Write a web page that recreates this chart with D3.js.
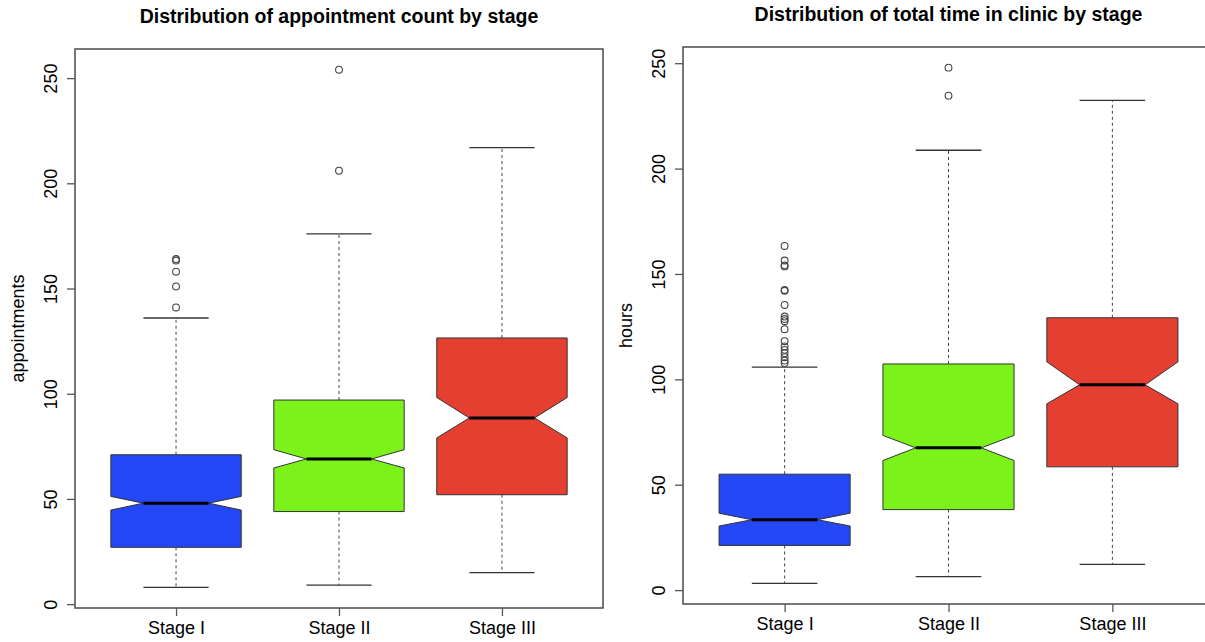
<!DOCTYPE html>
<html>
<head>
<meta charset="utf-8">
<script src="https://cdn.jsdelivr.net/npm/d3@7"></script>
<style>
  html, body { margin: 0; padding: 0; background: #ffffff; }
  svg { display: block; font-family: "Liberation Sans", Arial, Helvetica, sans-serif; }
</style>
</head>
<body>
<svg id="chart" width="1205" height="642"></svg>
<script>
// Stage groups and their fill colours
const stages = ["Stage I", "Stage II", "Stage III"];
const stageFills = ["#2548F6", "#7CF21B", "#E53F31"];
const yTicks = [0, 50, 100, 150, 200, 250];

// Appointment count per stage: five-number summaries, notch limits, outliers
const apptWhiskLo = [8, 9, 15];
const apptQ1 = [27, 44, 52];
const apptMedian = [48, 69, 88.5];
const apptQ3 = [71, 97, 126.5];
const apptWhiskHi = [136, 176, 217];
const apptNotchLo = [44.7, 64.7, 79];
const apptNotchHi = [51.2, 73.4, 98.2];
const apptOutliers = [[141, 151, 158, 163.3, 164], [206, 254], []];

// Total hours in clinic per stage
const hoursWhiskLo = [3.2, 6.4, 12.2];
const hoursQ1 = [21.2, 38.2, 58.5];
const hoursMedian = [33.4, 67.5, 97.4];
const hoursQ3 = [55, 107.3, 129.2];
const hoursWhiskHi = [105.8, 208.7, 232.4];
const hoursNotchLo = [30.4, 61.5, 88.4];
const hoursNotchHi = [36.5, 73.4, 108.3];
const hoursOutliers = [
  [107.7, 108.9, 110.5, 112.4, 114, 115.6, 118.1, 123.8, 127.6, 128.6, 129.8,
   135.3, 142, 142.4, 153.6, 154.1, 156.4, 163.3],
  [234.6, 247.9],
  []
];

const svg = d3.select("#chart");

function drawPanel(opt) {
  const g = svg.append("g");
  const n = stages.length;
  const rows = d3.range(n).map(i => ({
    name: stages[i], pos: i + 1, fill: stageFills[i],
    lo: opt.whiskLo[i], q1: opt.q1[i], med: opt.median[i], q3: opt.q3[i],
    hi: opt.whiskHi[i], nlo: opt.notchLo[i], nhi: opt.notchHi[i],
    out: opt.outliers[i]
  }));

  // y range padded by 4% of the data span on either side
  const allVals = rows.flatMap(r => [r.lo, r.hi, ...r.out]);
  const lo = d3.min(allVals), hi = d3.max(allVals), pad = (hi - lo) * 0.04;
  const y = d3.scaleLinear().domain([lo - pad, hi + pad]).range([opt.bottom, opt.top]);
  const x = d3.scaleLinear().domain([0.38, 3.62]).range([opt.left, opt.right]);
  const halfW = (x(1.4) - x(1)); // box half-width (0.4 units)

  // notched boxes
  const boxPath = r => {
    const c = x(r.pos);
    const pts = [
      [c - halfW, y(r.q1)], [c + halfW, y(r.q1)], [c + halfW, y(r.nlo)],
      [c + halfW * 0.5, y(r.med)], [c + halfW, y(r.nhi)], [c + halfW, y(r.q3)],
      [c - halfW, y(r.q3)], [c - halfW, y(r.nhi)], [c - halfW * 0.5, y(r.med)],
      [c - halfW, y(r.nlo)]
    ];
    return d3.line()(pts) + "Z";
  };

  // whiskers (dashed)
  g.selectAll(".whisk-lo").data(rows).join("line")
    .attr("x1", r => x(r.pos)).attr("x2", r => x(r.pos))
    .attr("y1", r => y(r.q1)).attr("y2", r => y(r.lo))
    .attr("stroke", "#444").attr("stroke-width", 1).attr("stroke-dasharray", "3,3");
  g.selectAll(".whisk-hi").data(rows).join("line")
    .attr("x1", r => x(r.pos)).attr("x2", r => x(r.pos))
    .attr("y1", r => y(r.q3)).attr("y2", r => y(r.hi))
    .attr("stroke", "#444").attr("stroke-width", 1).attr("stroke-dasharray", "3,3");

  // staples
  ["lo", "hi"].forEach(k => {
    g.selectAll(".cap-" + k).data(rows).join("line")
      .attr("x1", r => x(r.pos) - halfW * 0.5).attr("x2", r => x(r.pos) + halfW * 0.5)
      .attr("y1", r => y(r[k])).attr("y2", r => y(r[k]))
      .attr("stroke", "#333").attr("stroke-width", 1.3);
  });

  g.selectAll(".box").data(rows).join("path")
    .attr("d", boxPath)
    .attr("fill", r => r.fill)
    .attr("stroke", "#333").attr("stroke-width", 1);

  // medians
  g.selectAll(".med").data(rows).join("line")
    .attr("x1", r => x(r.pos) - halfW * 0.5).attr("x2", r => x(r.pos) + halfW * 0.5)
    .attr("y1", r => y(r.med)).attr("y2", r => y(r.med))
    .attr("stroke", "#000").attr("stroke-width", 3);

  // outliers
  const outPts = rows.flatMap(r => r.out.map(v => ({ pos: r.pos, v })));
  g.selectAll(".out").data(outPts).join("circle")
    .attr("cx", d => x(d.pos)).attr("cy", d => y(d.v)).attr("r", 3.4)
    .attr("fill", "none").attr("stroke", "#444").attr("stroke-width", 1.1);

  // frame
  g.append("rect")
    .attr("x", opt.left).attr("y", opt.top)
    .attr("width", opt.right - opt.left).attr("height", opt.bottom - opt.top)
    .attr("fill", "none").attr("stroke", "#4a4a4a").attr("stroke-width", 1.5);

  // y axis
  const yAxis = g.append("g").attr("transform", `translate(${opt.left},0)`)
    .call(d3.axisLeft(y).tickValues(yTicks).tickSize(8).tickPadding(0).tickFormat(d3.format("d")));
  yAxis.select(".domain").remove();
  yAxis.selectAll(".tick line").attr("stroke", "#555").attr("stroke-width", 1.3);
  yAxis.selectAll(".tick text")
    .attr("transform", "rotate(-90)")
    .attr("x", 0).attr("y", -18).attr("dy", 0)
    .attr("text-anchor", "middle")
    .attr("font-size", 18).attr("fill", "#000");

  // x axis
  const xAxis = g.append("g").attr("transform", `translate(0,${opt.bottom})`)
    .call(d3.axisBottom(x).tickValues([1, 2, 3]).tickSize(8).tickPadding(0)
      .tickFormat(d => stages[d - 1]));
  xAxis.select(".domain").remove();
  xAxis.selectAll(".tick line").attr("stroke", "#555").attr("stroke-width", 1.3);
  xAxis.selectAll(".tick text")
    .attr("y", 26).attr("dy", 0)
    .attr("font-size", 18).attr("fill", "#000");

  // titles
  svg.append("text")
    .attr("x", (opt.left + opt.right) / 2).attr("y", opt.top - 26)
    .attr("text-anchor", "middle").attr("font-weight", "bold").attr("font-size", 19.5)
    .text(opt.title);
  svg.append("text")
    .attr("transform", `translate(${opt.left - 51},${(opt.top + opt.bottom) / 2}) rotate(-90)`)
    .attr("text-anchor", "middle").attr("font-size", 18)
    .text(opt.yLabel);
}

drawPanel({
  left: 75, right: 603, top: 49, bottom: 608,
  title: "Distribution of appointment count by stage", yLabel: "appointments",
  whiskLo: apptWhiskLo, q1: apptQ1, median: apptMedian, q3: apptQ3, whiskHi: apptWhiskHi,
  notchLo: apptNotchLo, notchHi: apptNotchHi, outliers: apptOutliers
});

drawPanel({
  left: 683, right: 1214, top: 47, bottom: 604,
  title: "Distribution of total time in clinic by stage", yLabel: "hours",
  whiskLo: hoursWhiskLo, q1: hoursQ1, median: hoursMedian, q3: hoursQ3, whiskHi: hoursWhiskHi,
  notchLo: hoursNotchLo, notchHi: hoursNotchHi, outliers: hoursOutliers
});
</script>
</body>
</html>
